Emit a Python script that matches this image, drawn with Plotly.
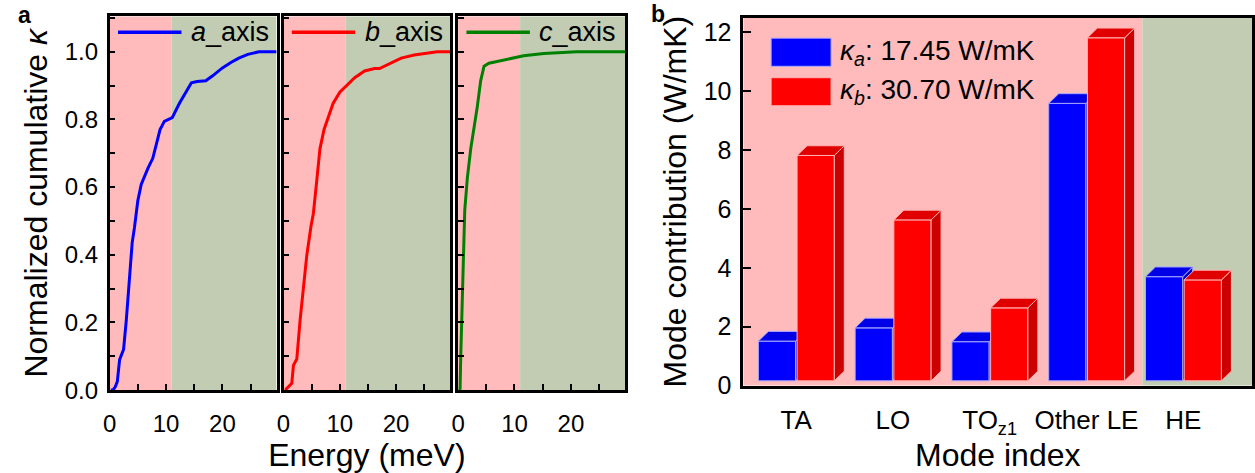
import plotly.graph_objects as go

FONT = "Arial, 'Liberation Sans', sans-serif"
W, H = 1255, 473

# ---- panel a: normalized cumulative thermal conductivity vs phonon energy ----
energy_a = [0.2, 0.6, 1.0, 1.36, 1.77, 2.47, 2.95, 3.5, 4.0, 4.4, 5.0, 5.6, 6.2, 6.8,
            7.65, 8.3, 8.94, 9.7, 10.6, 11.1, 12.35, 13.8, 14.5, 15.5, 16.5, 17.05,
            18.2, 20.0, 21.5, 22.9, 24.5, 26.5, 29.6]
kappa_cum_a = [0.0, 0.0, 0.01, 0.025, 0.09, 0.12, 0.206, 0.32, 0.436, 0.48, 0.56, 0.608,
               0.635, 0.656, 0.685, 0.73, 0.77, 0.794, 0.80, 0.805, 0.847, 0.89, 0.908,
               0.912, 0.913, 0.914, 0.928, 0.952, 0.968, 0.981, 0.992, 1.0, 1.0]

energy_b = [0.3, 0.6, 1.47, 1.76, 2.36, 2.94, 3.53, 4.13, 4.88, 5.3, 5.89, 6.47, 7.2,
            7.94, 8.8, 10.0, 11.2, 12.65, 14.4, 16.2, 17.05, 19.1, 20.9, 23.2, 27.3, 29.6]
kappa_cum_b = [0.0, 0.005, 0.02, 0.073, 0.092, 0.206, 0.302, 0.398, 0.484, 0.522, 0.617,
               0.713, 0.770, 0.809, 0.847, 0.880, 0.900, 0.923, 0.943, 0.950, 0.950,
               0.966, 0.981, 0.990, 1.0, 1.0]

energy_c = [0.3, 0.35, 0.47, 0.76, 0.94, 1.18, 1.64, 2.24, 2.82, 3.4, 4.0, 4.6, 5.47,
            6.93, 9.3, 11.6, 15.2, 21.0, 29.6]
kappa_cum_c = [0.0, 0.006, 0.10, 0.245, 0.388, 0.531, 0.627, 0.713, 0.770, 0.837, 0.914,
               0.957, 0.966, 0.971, 0.978, 0.988, 0.995, 1.0, 1.0]

axis_names = ["a", "b", "c"]
line_colors = ["#0000FF", "#FF0000", "#008000"]
LE_HE_SPLIT_MEV = 11.0
E_MAX = 29.6

# ---- panel b: mode-resolved contributions (W/mK) ----
modes = ["TA", "LO", "TO<sub>z1</sub>", "Other LE", "HE"]
kappa_a_modes = [1.35, 1.80, 1.33, 9.43, 3.54]
kappa_b_modes = [7.66, 5.47, 2.48, 11.66, 3.43]
MODE_SPLIT = 3.578  # boundary between low-energy and high-energy modes on the mode axis

PINK = "#FFBBBB"
SAGE = "#C1CCB2"

fig = go.Figure()


def frame_axis(**kw):
    d = dict(showline=True, mirror=True, linecolor="black", linewidth=2.5,
             showgrid=False, zeroline=False, ticks="inside", tickcolor="black",
             tickwidth=2, ticklen=6,
             tickfont=dict(size=24, color="black", family=FONT))
    d.update(kw)
    return d


# pixel frames of the three sub-panels of a
panel_px = [(103.3, 271.3), (278.3, 446.0), (454.0, 622.0)]
a_ydom = [1 - 402 / H, 1 - 17 / H]
curves = [(energy_a, kappa_cum_a), (energy_b, kappa_cum_b), (energy_c, kappa_cum_c)]

shapes = []
annotations = []
for k, ((e, kc), name, col, (px0, px1)) in enumerate(
        zip(curves, axis_names, line_colors, panel_px), start=1):
    sfx = "" if k == 1 else str(k)
    fig.add_trace(go.Scatter(x=e, y=kc, mode="lines", line=dict(color=col, width=3),
                             xaxis="x" + sfx, yaxis="y" + sfx, showlegend=False,
                             hoverinfo="skip"))
    xa = frame_axis(domain=[px0 / W, px1 / W], range=[0, E_MAX], dtick=10, tick0=0,
                    anchor="y" + sfx, ticklabelstandoff=10,
                    minor=dict(dtick=5, ticks="inside", ticklen=6, tickwidth=2,
                               tickcolor="black"))
    ya = frame_axis(domain=a_ydom, range=[0, 1.104], dtick=0.2, tick0=0,
                    tickformat=".1f", anchor="x" + sfx, ticklabelstandoff=4,
                    showticklabels=(k == 1),
                    minor=dict(dtick=0.1, ticks="inside", ticklen=6, tickwidth=2,
                               tickcolor="black"))
    if k == 1:
        ya["title"] = dict(text="Normalized cumulative <i>κ</i>",
                           font=dict(size=32, color="black", family=FONT), standoff=8)
    if k == 2:
        xa["title"] = dict(text="Energy (meV)",
                           font=dict(size=32, color="black", family=FONT), standoff=0)
    fig.layout["xaxis" + sfx] = xa
    fig.layout["yaxis" + sfx] = ya

    shapes.append(dict(type="rect", xref="x" + sfx, yref="y" + sfx + " domain",
                       x0=0, x1=LE_HE_SPLIT_MEV, y0=0, y1=1, fillcolor=PINK,
                       line=dict(width=0), layer="below"))
    shapes.append(dict(type="rect", xref="x" + sfx, yref="y" + sfx + " domain",
                       x0=LE_HE_SPLIT_MEV, x1=E_MAX, y0=0, y1=1, fillcolor=SAGE,
                       line=dict(width=0), layer="below"))
    # in-panel key: line sample + label
    shapes.append(dict(type="line", xref="x" + sfx + " domain", yref="y" + sfx + " domain",
                       x0=0.05, x1=0.43, y0=0.958, y1=0.958,
                       line=dict(color=col, width=3.5)))
    annotations.append(dict(xref="x" + sfx + " domain", yref="y" + sfx + " domain",
                            x=0.475, y=0.958, xanchor="left", yanchor="middle",
                            text=f"<i>{name}</i>_axis", showarrow=False,
                            font=dict(size=27, color="black", family=FONT)))

# ---- panel b layout ----
b_xdom = [741 / W, 1253.3 / W]
b_ydom = [1 - 397.3 / H, 1 - 18.3 / H]
XR = [-0.546, 4.714]
YR = [0, 12.5]
idx = list(range(len(modes)))

fig.layout["xaxis4"] = frame_axis(domain=b_xdom, range=XR, anchor="y4", ticks="",
                                  tickvals=idx, ticktext=modes, ticklabelstandoff=10,
                                  tickfont=dict(size=26, color="black", family=FONT),
                                  title=dict(text="Mode index", standoff=6,
                                             font=dict(size=32, color="black", family=FONT)))
fig.layout["yaxis4"] = frame_axis(domain=b_ydom, range=YR, anchor="x4", dtick=2,
                                  ticklen=8, ticklabelstandoff=4,
                                  tickfont=dict(size=25, color="black", family=FONT),
                                  title=dict(text="Mode contribution (W/mK)", standoff=8,
                                             font=dict(size=32, color="black", family=FONT)))
# overlay axes so the second series is layered on top of the first
fig.layout["xaxis5"] = dict(overlaying="x4", range=XR, visible=False, anchor="y5")
fig.layout["yaxis5"] = dict(overlaying="y4", range=YR, visible=False, anchor="x5")

shapes.append(dict(type="rect", xref="x4", yref="y4 domain", x0=XR[0], x1=MODE_SPLIT,
                   y0=0, y1=1, fillcolor=PINK, line=dict(width=0), layer="below"))
shapes.append(dict(type="rect", xref="x4", yref="y4 domain", x0=MODE_SPLIT, x1=XR[1],
                   y0=0, y1=1, fillcolor=SAGE, line=dict(width=0), layer="below"))

# 3D bar styling
BAR_W = 0.385
DX, DY = 0.103, 0.33
LIFT = 0.16


def bar_faces(values, offset):
    tx, ty, sx, sy = [], [], [], []
    for i, v in zip(idx, values):
        left = i + offset
        right = left + BAR_W
        top = LIFT + v
        tx += [left, right, right + DX, left + DX, left, None]
        ty += [top, top, top + DY, top + DY, top, None]
        sx += [right, right, right + DX, right + DX, right, None]
        sy += [LIFT, top, top + DY, LIFT + DY, LIFT, None]
    return tx, ty, sx, sy


series = [
    (kappa_a_modes, -0.39, "#0000FF", "#0000E6", "#0000CC", "#A8A8FF", "x4", "y4"),
    (kappa_b_modes, 0.01, "#FF0000", "#E00000", "#CC0000", "#FFB4B4", "x5", "y5"),
]
for vals, off, front, topc, sidec, edge, xr, yr in series:
    fig.add_trace(go.Bar(x=idx, y=vals, base=LIFT, width=BAR_W, offset=off,
                         marker=dict(color=front, line=dict(color=edge, width=1)),
                         xaxis=xr, yaxis=yr, showlegend=False, hoverinfo="skip"))
    tx, ty, sx, sy = bar_faces(vals, off)
    fig.add_trace(go.Scatter(x=sx, y=sy, mode="lines", fill="toself", fillcolor=sidec,
                             line=dict(color=edge, width=1), xaxis=xr, yaxis=yr,
                             showlegend=False, hoverinfo="skip"))
    fig.add_trace(go.Scatter(x=tx, y=ty, mode="lines", fill="toself", fillcolor=topc,
                             line=dict(color=edge, width=1), xaxis=xr, yaxis=yr,
                             showlegend=False, hoverinfo="skip"))

# key for panel b with the total conductivities
key_rows = [
    ("a", kappa_a_modes, "#0000FF", "#A8A8FF", 0.868, 0.9446),
    ("b", kappa_b_modes, "#FF0000", "#FFB4B4", 0.7607, 0.837),
]
for sub, vals, col, edge, y0, y1 in key_rows:
    shapes.append(dict(type="rect", xref="x4 domain", yref="y4 domain",
                       x0=0.0547, x1=0.1724, y0=y0, y1=y1, fillcolor=col,
                       line=dict(color=edge, width=1)))
    annotations.append(dict(xref="x4 domain", yref="y4 domain", x=0.186,
                            y=(y0 + y1) / 2, xanchor="left", yanchor="middle",
                            showarrow=False,
                            text=f"<i>κ</i><sub><i>{sub}</i></sub>: {sum(vals):.2f} W/mK",
                            font=dict(size=28, color="black", family=FONT)))

# panel letters
annotations.append(dict(xref="paper", yref="paper", x=18 / W, y=1 - 15 / H,
                        text="<b>a</b>", showarrow=False, xanchor="center",
                        yanchor="middle", font=dict(size=23, color="black", family=FONT)))
annotations.append(dict(xref="paper", yref="paper", x=655 / W, y=1 - 14 / H,
                        text="<b>b</b>", showarrow=False, xanchor="center",
                        yanchor="middle", font=dict(size=23, color="black", family=FONT)))

fig.update_layout(width=W, height=H, margin=dict(l=0, r=0, t=0, b=0),
                  paper_bgcolor="white", plot_bgcolor="rgba(0,0,0,0)",
                  barmode="overlay", shapes=shapes, annotations=annotations,
                  font=dict(family=FONT, color="black"), showlegend=False)

fig.write_html("out.html")
